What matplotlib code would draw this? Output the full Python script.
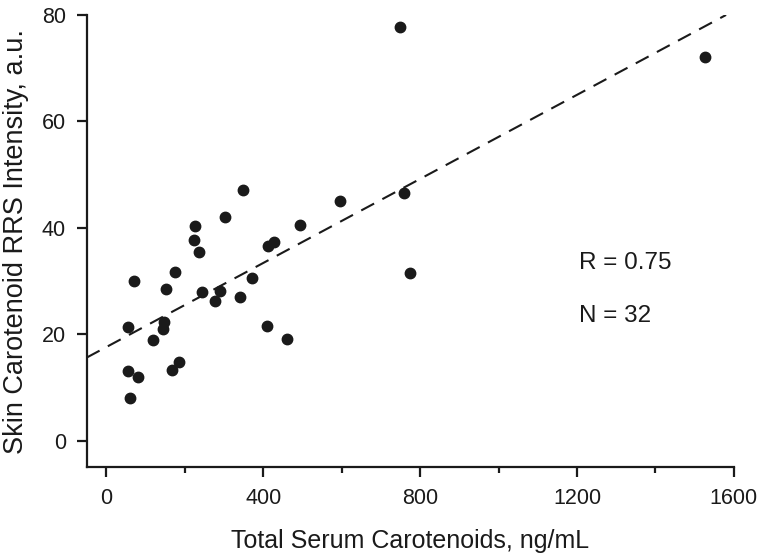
import matplotlib
matplotlib.use('Agg')
import matplotlib.pyplot as plt
from matplotlib.ticker import MultipleLocator
import numpy as np

plt.rcParams['font.family'] = ['Liberation Sans', 'DejaVu Sans']

# values
serum = [748, 1527, 348, 302, 227, 223, 236, 413, 428, 495, 596, 758,
         70, 175, 151, 244, 289, 278, 341, 372, 775, 56, 148, 144,
         118, 409, 461, 56, 82, 167, 185, 60]
skin = [77.7, 72.1, 47.1, 42.0, 40.3, 37.8, 35.5, 36.5, 37.3, 40.5, 45.1, 46.5,
        30.1, 31.7, 28.5, 27.9, 28.2, 26.3, 27.1, 30.6, 31.5, 21.4, 22.3, 21.0,
        18.9, 21.6, 19.1, 13.1, 12.0, 13.2, 14.8, 8.1]
fit_intercept = 17.6
fit_slope = 0.0395
fit_range = [-50, 1580]
r_value = 0.75

fig = plt.figure(figsize=(7.64, 5.6), dpi=100)
ax = fig.add_axes([0.1135, 0.1655, 0.8471, 0.8077])

fx = np.array(fit_range)
ax.plot(fx, fit_intercept + fit_slope * fx, color='#1a1a1a', lw=1.5,
        dashes=(7, 4.5))
ax.plot(serum, skin, 'o', color='#1a1a1a', markersize=7.5, zorder=3)

ax.set_xlim(-50, 1600)
ax.set_ylim(-5, 80)
ax.xaxis.set_major_locator(MultipleLocator(400))
ax.xaxis.set_minor_locator(MultipleLocator(200))
ax.yaxis.set_major_locator(MultipleLocator(20))

for s in ['top', 'right']:
    ax.spines[s].set_visible(False)
for s in ['left', 'bottom']:
    ax.spines[s].set_linewidth(1.6)
    ax.spines[s].set_color('#1a1a1a')

ax.tick_params(which='major', length=7, width=1.6, color='#1a1a1a',
               labelsize=15.5, labelcolor='#1a1a1a', pad=8)
ax.tick_params(which='minor', length=4, width=1.6, color='#1a1a1a')

ax.set_xlabel('Total Serum Carotenoids, ng/mL', fontsize=18, color='#1a1a1a', labelpad=14)
ax.set_ylabel('Skin Carotenoid RRS Intensity, a.u.', fontsize=19.5, color='#1a1a1a', labelpad=9)

ax.text(1206, 33.4, 'R = %.2f' % r_value, fontsize=17.5, color='#1a1a1a', va='center')
ax.text(1206, 23.4, 'N = %d' % len(serum), fontsize=17.5, color='#1a1a1a', va='center')

fig.savefig('out.png', dpi=100)
